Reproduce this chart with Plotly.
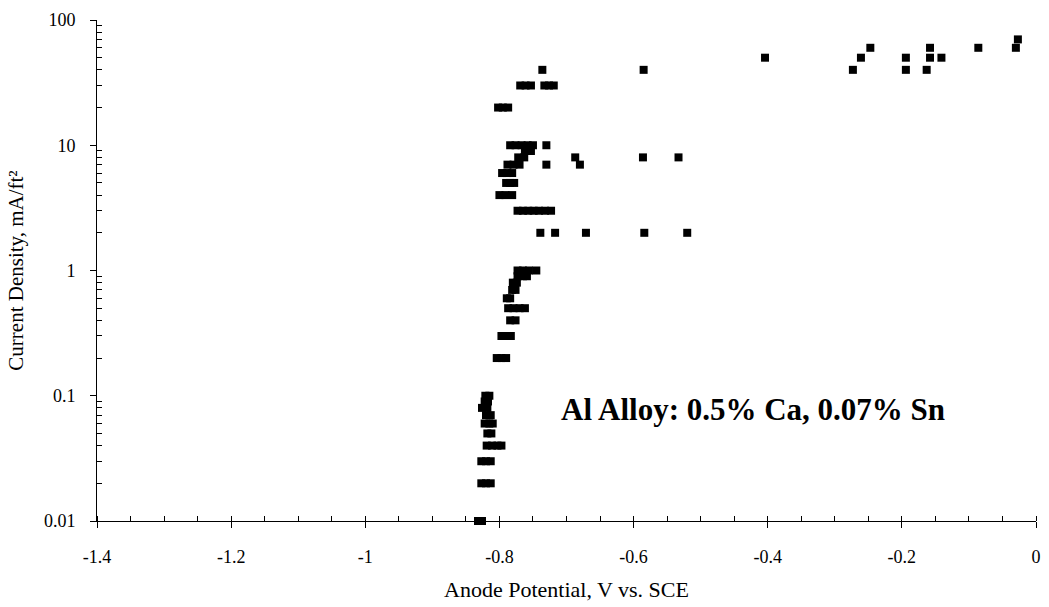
import plotly.graph_objects as go

potential = [
    -0.832, -0.826,
    -0.827, -0.820, -0.813,
    -0.827, -0.820, -0.813,
    -0.819, -0.811, -0.803, -0.797,
    -0.818, -0.812,
    -0.822, -0.815, -0.810,
    -0.820, -0.813,
    -0.826, -0.818,
    -0.822, -0.817,
    -0.821, -0.815,
    -0.804, -0.797, -0.790,
    -0.797, -0.790, -0.783,
    -0.784, -0.776,
    -0.787, -0.779, -0.770, -0.762,
    -0.789, -0.784,
    -0.781, -0.776,
    -0.780, -0.774,
    -0.773, -0.765, -0.759,
    -0.773, -0.765, -0.756, -0.745,
    -0.739, -0.717, -0.671, -0.584, -0.520,
    -0.773, -0.765, -0.757, -0.749, -0.741, -0.732, -0.723,
    -0.800, -0.791, -0.781,
    -0.790, -0.784, -0.778,
    -0.796, -0.789, -0.781,
    -0.788, -0.779, -0.770, -0.730, -0.680,
    -0.772, -0.763, -0.687, -0.586, -0.533,
    -0.762, -0.753,
    -0.784, -0.776, -0.767, -0.758, -0.750, -0.730,
    -0.802, -0.795, -0.787,
    -0.769, -0.761, -0.753, -0.733, -0.726, -0.719,
    -0.736, -0.585, -0.273, -0.194, -0.163,
    -0.404, -0.261, -0.194, -0.158, -0.141,
    -0.247, -0.158, -0.086, -0.030,
    -0.027,
]

current = (
    [0.01] * 2 + [0.02] * 3 + [0.03] * 3 + [0.04] * 4 + [0.05] * 2 + [0.06] * 3
    + [0.07] * 2 + [0.08] * 2 + [0.09] * 2 + [0.1] * 2 + [0.2] * 3 + [0.3] * 3
    + [0.4] * 2 + [0.5] * 4 + [0.6] * 2 + [0.7] * 2 + [0.8] * 2 + [0.9] * 3
    + [1] * 4 + [2] * 5 + [3] * 7 + [4] * 3 + [5] * 3 + [6] * 3 + [7] * 5
    + [8] * 5 + [9] * 2 + [10] * 6 + [20] * 3 + [30] * 6 + [40] * 5 + [50] * 5
    + [60] * 4 + [70] * 1
)

x_ticks = [-1.4, -1.2, -1.0, -0.8, -0.6, -0.4, -0.2, 0.0]
x_labels = ["-1.4", "-1.2", "-1", "-0.8", "-0.6", "-0.4", "-0.2", "0"]
y_ticks = [0.01, 0.1, 1, 10, 100]
y_labels = ["0.01", "0.1", "1", "10", "100"]
y_minor = [m * 10 ** e for e in range(-2, 2) for m in range(2, 10)]

FONT = "Liberation Serif, Times New Roman, serif"

fig = go.Figure()
fig.add_trace(go.Scatter(
    x=potential, y=current, mode="markers",
    marker=dict(symbol="square", size=8, color="black", line=dict(width=0)),
    cliponaxis=False, showlegend=False,
))

fig.add_annotation(
    x=-0.422, y=-1, yref="y", xref="x",
    yshift=-14,
    text="<b>Al Alloy: 0.5% Ca, 0.07% Sn</b>",
    showarrow=False, font=dict(family=FONT, size=31, color="black"),
)

fig.update_layout(
    width=1049, height=607,
    margin=dict(l=97, r=8, t=20, b=86),
    paper_bgcolor="white", plot_bgcolor="white",
    font=dict(family=FONT, size=18, color="black"),
    xaxis=dict(
        range=[-1.4, 0], tickvals=x_ticks, ticktext=x_labels,
        showline=True, linecolor="black", linewidth=1,
        ticks="outside", ticklen=6, tickcolor="black", tickwidth=1,
        minor=dict(dtick=0.05, ticks="inside", ticklen=5, tickcolor="black", tickwidth=1),
        showgrid=False, zeroline=False, ticklabelstandoff=13,
        title=dict(text="Anode Potential, V vs. SCE", font=dict(family=FONT, size=22), standoff=16),
        mirror=False,
    ),
    yaxis=dict(
        type="log", range=[-2, 2], tickvals=y_ticks, ticktext=y_labels,
        showline=True, linecolor="black", linewidth=1,
        ticks="outside", ticklen=6, tickcolor="black", tickwidth=1,
        minor=dict(tickmode="array", tickvals=y_minor, ticks="inside", ticklen=5,
                   tickcolor="black", tickwidth=1, showgrid=False),
        showgrid=False, zeroline=False, ticklabelstandoff=11,
        title=dict(text="Current Density, mA/ft²", font=dict(family=FONT, size=21), standoff=14),
    ),
)

fig.write_html("out.html")
